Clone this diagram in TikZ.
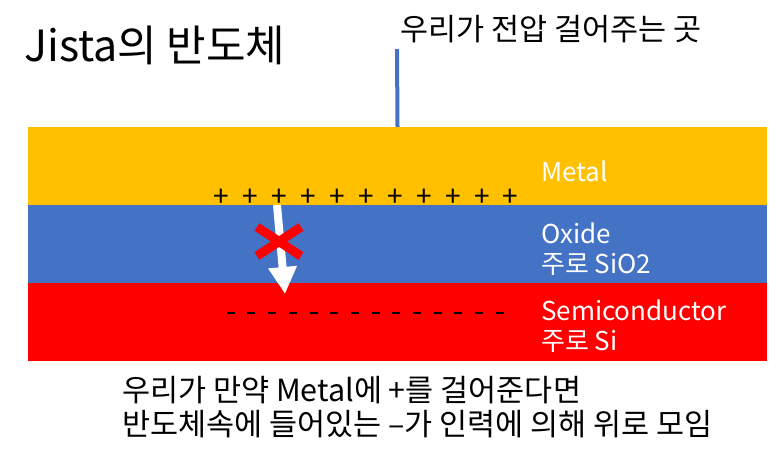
\documentclass[tikz,border=0pt]{standalone}
\usepackage{fontspec}
\setmainfont{Noto Sans CJK KR}
\usetikzlibrary{positioning,arrows.meta}
\definecolor{metalc}{HTML}{FFC000}
\definecolor{oxidec}{HTML}{4472C4}
\definecolor{semic}{HTML}{FF0000}
\begin{document}
\begin{tikzpicture}[
    x=1pt, y=-1pt,
    layer/.style={draw=none, minimum width=739pt, minimum height=78pt, inner sep=0pt, outer sep=0pt},
    tag/.style={anchor=west, text=white, align=left, font=\fontsize{26}{30}\selectfont, inner sep=0pt},
    plusmark/.style={inner sep=0pt, font=\fontsize{28}{28}\selectfont},
    minusmark/.style={inner sep=0pt, fill=black, minimum width=8pt, minimum height=2.5pt}
  ]
  \useasboundingbox (0,0) rectangle (783,458);
  % layers
  \node[layer, fill=metalc] (metal) at (397.5,166) {};
  \node[layer, fill=oxidec, below=0pt of metal] (oxide) {};
  \node[layer, fill=semic, below=0pt of oxide] (semi) {};
  \node[tag] (metaltag) at (541,171) {Metal};
  \node[tag] (oxidetag) at (541,249) {Oxide\\주로 SiO2};
  \node[tag] (semitag) at (541,326) {Semiconductor\\주로 Si};
  % charges
  \foreach \i in {0,...,10}
    \node[plusmark] (plus\i) at (221.7+28.9*\i,198) {+};
  \foreach \i in {0,...,13}
    \node[minusmark] (minus\i) at (230.7+20.7*\i,313) {};
  % arrow and cross
  \coordinate (arrowtop) at (277,205);
  \coordinate (arrowtip) at (285,294);
  \draw[white, line width=8pt, -{Triangle[width=27pt,length=27pt]}] (arrowtop) -- (arrowtip);
  \coordinate (crossa) at (257,227);
  \coordinate (crossb) at (301,256);
  \coordinate (crossc) at (257,256);
  \coordinate (crossd) at (301,227);
  \draw[semic, line width=9pt] (crossa) -- (crossb) (crossc) -- (crossd);
  % labels
  \node[anchor=west, inner sep=0pt, font=\fontsize{43}{43}\selectfont] (title) at (24,45) {Jista의 반도체};
  \node[anchor=west, inner sep=0pt, font=\fontsize{30.5}{30.5}\selectfont] (voltage) at (400,29) {우리가 전압 걸어주는 곳};
  \coordinate (wiretop) at (397,49);
  \draw[oxidec, line width=4pt] (wiretop) -- (metal.north);
  \node[anchor=north west, align=left, inner sep=0pt, font=\fontsize{30.5}{34}\selectfont] (note) at (122,376)
    {우리가 만약 Metal에 +를 걸어준다면\\반도체속에 들어있는 –가 인력에 의해 위로 모임};
\end{tikzpicture}
\end{document}
